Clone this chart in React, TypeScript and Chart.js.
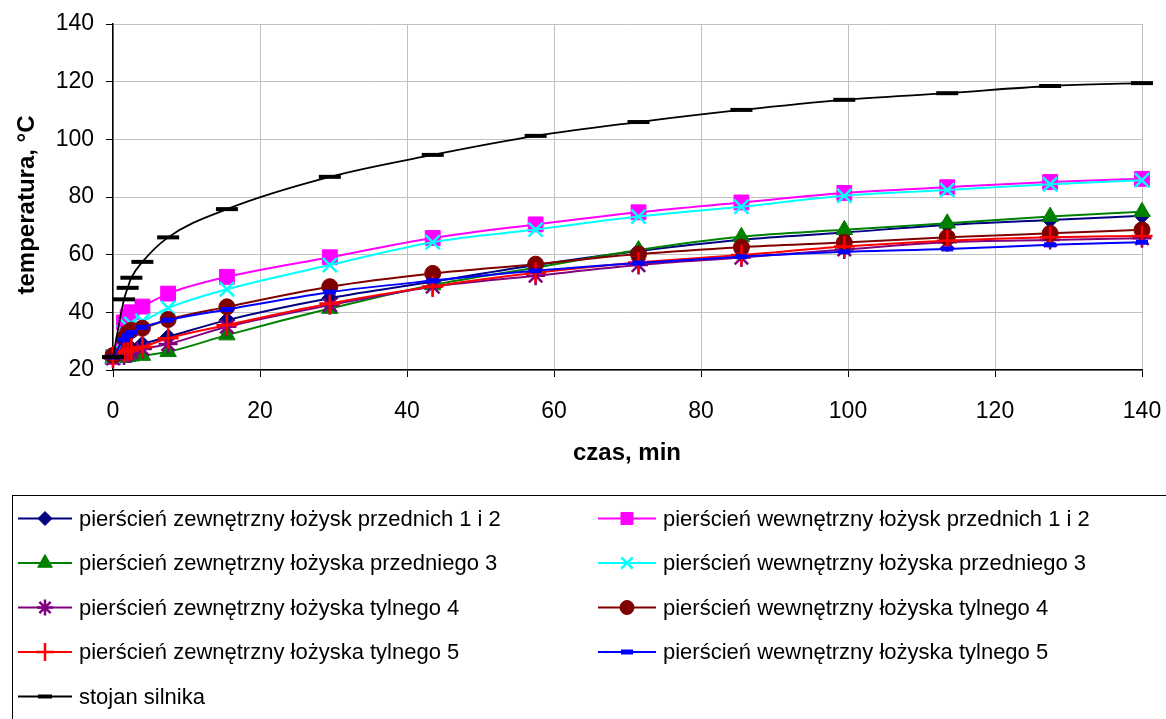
import React, { useEffect, useRef } from "react";
import { Chart, registerables } from "chart.js";
import { drawPoint } from "chart.js/helpers";

Chart.register(...registerables);

// ---- data ----
const times = [0, 1.5, 2, 2.5, 4, 7.5, 15.5, 29.5, 43.5, 57.5, 71.5, 85.5, 99.5, 113.5, 127.5, 140];

const zewPrzednich12 = [24.5, 26, 27, 27.5, 29, 31.5, 37.3, 44.9, 50.6, 56.4, 61.3, 65.2, 67.7, 70.3, 72, 73.5];
const wewPrzednich12 = [24.5, 36.5, 38.5, 40, 42, 46.5, 52.3, 59.1, 65.8, 70.5, 74.7, 78.1, 81.4, 83.4, 85.2, 86.3];
const zewPrzedniego3 = [24, 24.3, 24.6, 24.8, 25, 26.3, 32.1, 41.3, 49.5, 55.5, 61.6, 66.2, 68.6, 70.9, 73.2, 74.9];
const wewPrzedniego3 = [24.5, 33, 35, 36, 37, 41.5, 48, 56.4, 64.3, 68.7, 73.2, 76.6, 80.4, 82.4, 84.4, 85.8];
const zewTylnego4 = [24, 25, 25.8, 26.3, 27.3, 29, 35, 42.5, 48.9, 52.7, 56.4, 59, 61.8, 64.3, 65.1, 65.7];
const wewTylnego4 = [25, 31, 33, 33.8, 34.5, 37.5, 41.9, 48.9, 53.5, 56.7, 60.2, 62.6, 64.2, 66, 67.4, 68.6];
const zewTylnego5 = [24.5, 26.3, 26.8, 27.2, 28, 31, 35.6, 43.1, 49, 53.7, 57.3, 59.9, 62.8, 64.8, 66, 66.5];
const wewTylnego5 = [24.5, 30.5, 32, 33, 34.8, 37.3, 41, 47, 51, 54.4, 57.1, 59.3, 61, 62, 63.4, 64.3];
const stojanSilnika = [24.5, 44.5, 48.5, 52, 57.5, 66, 75.8, 87, 94.6, 101.2, 106, 110.2, 113.7, 116, 118.5, 119.5];

const seriesNames = [
  "pierścień zewnętrzny łożysk przednich 1 i 2",
  "pierścień wewnętrzny łożysk przednich 1 i 2",
  "pierścień zewnętrzny łożyska przedniego 3",
  "pierścień wewnętrzny łożyska przedniego 3",
  "pierścień zewnętrzny łożyska tylnego 4",
  "pierścień wewnętrzny łożyska tylnego 4",
  "pierścień zewnętrzny łożyska tylnego 5",
  "pierścień wewnętrzny łożyska tylnego 5",
  "stojan silnika",
];
const seriesValues = [
  zewPrzednich12,
  wewPrzednich12,
  zewPrzedniego3,
  wewPrzedniego3,
  zewTylnego4,
  wewTylnego4,
  zewTylnego5,
  wewTylnego5,
  stojanSilnika,
];

const xTicks = { min: 0, max: 140, step: 20 };
const yTicks = { min: 20, max: 140, step: 20 };
const xTitle = "czas, min";
const yTitle = "temperatura, °C";

// ---- styles ----
const styles = [
  { color: "#000080", pointStyle: "rectRot", radius: 8, bw: 1, lw: 2, lr: 7 },
  { color: "#FF00FF", pointStyle: "rect", radius: 10.5, bw: 1, lw: 2, lr: 8.5 },
  { color: "#008000", pointStyle: "triangle", radius: 9.5, bw: 1, lw: 2, lr: 8.5 },
  { color: "#00FFFF", pointStyle: "crossRot", radius: 10, bw: 2.5, lw: 2, lr: 8 },
  { color: "#800080", pointStyle: "star", radius: 9.5, bw: 2.5, lw: 2, lr: 8 },
  { color: "#800000", pointStyle: "circle", radius: 8, bw: 1, lw: 2, lr: 7 },
  { color: "#FF0000", pointStyle: "cross", radius: 10.5, bw: 2.5, lw: 2, lr: 9 },
  { color: "#0000FF", pointStyle: "line", radius: 6, bw: 5, lw: 2, lr: 6 },
  { color: "#000000", pointStyle: "line", radius: 11, bw: 4, lw: 1.8, lr: 7 },
];

const FONT = '"Liberation Sans", Arial, sans-serif';

const decorPlugin = {
  id: "decor",
  afterDraw(chart: any) {
    const ctx = chart.ctx as CanvasRenderingContext2D;
    // axis titles
    ctx.save();
    ctx.fillStyle = "#000";
    ctx.font = `bold 24px ${FONT}`;
    ctx.textAlign = "center";
    ctx.textBaseline = "middle";
    ctx.fillText(xTitle, 627, 453);
    ctx.translate(27, 205);
    ctx.rotate(-Math.PI / 2);
    ctx.fillText(yTitle, 0, 0);
    ctx.restore();

    // legend frame
    ctx.save();
    ctx.strokeStyle = "#000";
    ctx.lineWidth = 1;
    ctx.strokeRect(12.5, 495.5, 1300, 400);
    ctx.restore();

    // legend entries
    const cols = [
      { l0: 18, l1: 72, tx: 79 },
      { l0: 598, l1: 656, tx: 663 },
    ];
    seriesNames.forEach((name, i) => {
      const st = styles[i];
      const c = cols[i % 2];
      const y = 518.5 + Math.floor(i / 2) * 44.5;
      ctx.save();
      ctx.strokeStyle = st.color;
      ctx.fillStyle = st.color;
      ctx.lineWidth = st.lw;
      ctx.beginPath();
      ctx.moveTo(c.l0, y);
      ctx.lineTo(c.l1, y);
      ctx.stroke();
      ctx.lineWidth = st.bw;
      drawPoint(ctx, { pointStyle: st.pointStyle as any, radius: st.lr, rotation: 0, borderWidth: st.bw } as any, (c.l0 + c.l1) / 2, y);
      ctx.restore();
      ctx.save();
      ctx.fillStyle = "#000";
      ctx.font = `22px ${FONT}`;
      ctx.textAlign = "left";
      ctx.textBaseline = "middle";
      ctx.fillText(name, c.tx, y + 1);
      ctx.restore();
    });
  },
};

export default function App() {
  const ref = useRef<HTMLCanvasElement | null>(null);
  useEffect(() => {
    if (!ref.current) return;
    const n = seriesNames.length;
    const chart = new Chart(ref.current, {
      type: "line",
      data: {
        datasets: seriesNames.map((name, i) => ({
          label: name,
          data: times.map((t, k) => ({ x: t, y: seriesValues[i][k] })),
          borderColor: styles[i].color,
          backgroundColor: styles[i].color,
          borderWidth: styles[i].lw,
          pointStyle: styles[i].pointStyle as any,
          pointRadius: styles[i].radius,
          pointBorderWidth: styles[i].bw,
          pointBorderColor: styles[i].color,
          pointBackgroundColor: styles[i].color,
          cubicInterpolationMode: "monotone" as const,
          fill: false,
          order: n - 1 - i,
          clip: 14,
        })),
      },
      options: {
        responsive: false,
        animation: false,
        layout: { autoPadding: false, padding: { left: 0, top: 24, right: 24, bottom: 0 } },
        plugins: { legend: { display: false }, tooltip: { enabled: false } },
        scales: {
          x: {
            type: "linear",
            min: xTicks.min,
            max: xTicks.max,
            ticks: {
              stepSize: xTicks.step,
              color: "#000",
              font: { family: FONT, size: 23 },
              padding: 21,
              maxRotation: 0,
            },
            grid: { color: "#c0c0c0", tickColor: "#000", tickLength: 7, lineWidth: 1 },
            border: { color: "#000", width: 1.5 },
            afterFit: (s: any) => {
              s.height = 719 - 370;
              s.paddingLeft = 0;
              s.paddingRight = 0;
            },
          },
          y: {
            type: "linear",
            min: yTicks.min,
            max: yTicks.max,
            ticks: {
              stepSize: yTicks.step,
              color: "#000",
              font: { family: FONT, size: 23 },
              padding: 12,
            },
            grid: { color: "#c0c0c0", tickColor: "#000", tickLength: 7, lineWidth: 1 },
            border: { color: "#000", width: 1.5 },
            afterFit: (s: any) => {
              s.width = 113;
              s.paddingTop = 0;
              s.paddingBottom = 0;
            },
          },
        },
      },
      plugins: [decorPlugin],
    });
    return () => chart.destroy();
  }, []);
  return (
    <div style={{ position: "absolute", left: 0, top: 0, width: 1166, height: 719, background: "#fff" }}>
      <canvas ref={ref} width={1166} height={719} style={{ display: "block" }} />
    </div>
  );
}
